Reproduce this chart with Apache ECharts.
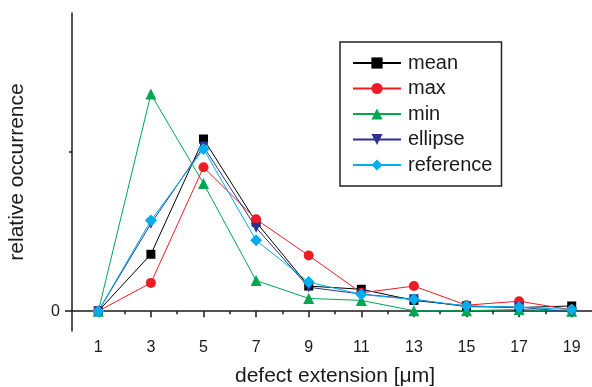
<!DOCTYPE html>
<html>
<head>
<meta charset="utf-8">
<script src="https://cdn.jsdelivr.net/npm/echarts@6/dist/echarts.min.js"></script>
<style>
  html, body { margin: 0; padding: 0; background: #fff; }
  #chart { width: 592px; height: 387px; }
</style>
</head>
<body>
<div id="chart"></div>
<script>
const extension = [1, 3, 5, 7, 9, 11, 13, 15, 17, 19]
const labelTicks = [1, 3, 5, 7, 9, 11, 13, 15, 17, 19]
const minorTicks = [2, 4, 6, 8, 10, 12, 14, 16, 18, 20]

const mean = [0, 0.143, 0.433, 0.224, 0.063, 0.055, 0.027, 0.013, 0.009, 0.013]
const max = [0, 0.071, 0.362, 0.231, 0.140, 0.046, 0.063, 0.015, 0.025, 0.003]
const min = [0, 0.546, 0.321, 0.077, 0.032, 0.027, 0.001, 0.001, 0.004, 0]
const ellipse = [0, 0.220, 0.414, 0.210, 0.060, 0.043, 0.030, 0.011, 0.010, -0.002]
const reference = [0, 0.228, 0.408, 0.178, 0.073, 0.042, 0.029, 0.013, 0.010, 0.004]

const font = '"Liberation Sans", Arial, sans-serif'

const chart = echarts.init(document.getElementById('chart'), null, { renderer: 'canvas' })

function line(name, values, color, symbol, size) {
  return {
    name,
    type: 'line',
    data: extension.map((x, i) => [x, values[i]]),
    symbol,
    symbolSize: size,
    showSymbol: true,
    itemStyle: { color },
    lineStyle: { color, width: 1 },
    emphasis: { disabled: true },
  }
}

const xBase = {
  type: 'value',
  min: 0,
  max: 20,
  position: 'bottom',
  splitLine: { show: false },
}
const yBase = {
  type: 'value',
  min: -0.05,
  max: 0.75,
  position: 'left',
  splitLine: { show: false },
}

chart.setOption({
  animation: false,
  backgroundColor: '#fff',
  textStyle: { fontFamily: font },
  grid: { left: 72, right: -6, top: 13, bottom: 56, containLabel: false, outerBoundsMode: 'none' },
  xAxis: [
    {
      ...xBase,
      name: 'defect extension [μm]',
      nameLocation: 'middle',
      nameGap: 35,
      nameTextStyle: { fontSize: 21, color: '#1a1a1a', fontFamily: font },
      axisLine: { lineStyle: { color: '#1a1a1a', width: 1.5 } },
      axisTick: { customValues: labelTicks, length: 6, lineStyle: { color: '#1a1a1a', width: 1.5 } },
      axisLabel: { customValues: labelTicks, margin: 9, fontSize: 16, color: '#1a1a1a', fontFamily: font },
    },
    {
      ...xBase,
      axisLine: { show: false },
      axisTick: { customValues: minorTicks, length: 3, lineStyle: { color: '#1a1a1a', width: 1.5 } },
      axisLabel: { show: false },
    },
  ],
  yAxis: [
    {
      ...yBase,
      name: 'relative occurrence',
      nameLocation: 'middle',
      nameGap: 44,
      nameTextStyle: { fontSize: 21, color: '#1a1a1a', fontFamily: font },
      axisLine: { lineStyle: { color: '#1a1a1a', width: 1.5 } },
      axisTick: { customValues: [0], length: 7, lineStyle: { color: '#1a1a1a', width: 1.5 } },
      axisLabel: { customValues: [0], margin: 12, fontSize: 16, color: '#1a1a1a', fontFamily: font },
    },
    {
      ...yBase,
      axisLine: { show: false },
      axisTick: { customValues: [0.4], length: 3, lineStyle: { color: '#1a1a1a', width: 1.5 } },
      axisLabel: { show: false },
    },
  ],
  legend: {
    left: 340,
    top: 42,
    orient: 'vertical',
    borderColor: '#222',
    borderWidth: 1.5,
    padding: [11, 9, 11, 12],
    itemWidth: 48,
    itemHeight: 14,
    itemGap: 5.5,
    textStyle: { fontSize: 20, lineHeight: 20, color: '#1a1a1a', fontFamily: font, padding: [0, 0, 0, 2] },
    data: ['mean', 'max', 'min', 'ellipse', 'reference'],
  },
  series: [
    line('mean', mean, '#000000', 'rect', 9),
    line('max', max, '#ed1c24', 'circle', 10),
    line('min', min, '#00a651', 'triangle', 11),
    line('ellipse', ellipse, '#2e3192', 'path://M0,0 L10,0 L5,10 Z', 10),
    line('reference', reference, '#00aeef', 'diamond', 12),
  ],
})
</script>
</body>
</html>
